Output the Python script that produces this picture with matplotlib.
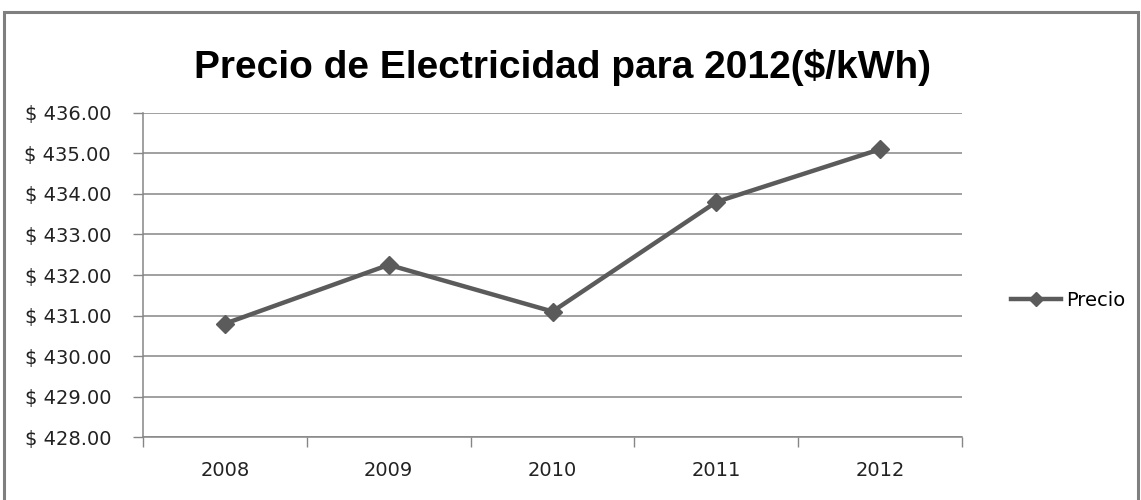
import matplotlib
matplotlib.use("Agg")
import matplotlib.pyplot as plt
from matplotlib.patches import Rectangle
from matplotlib.ticker import FuncFormatter, FixedLocator

years = ["2008", "2009", "2010", "2011", "2012"]
precio = [430.80, 432.25, 431.10, 433.80, 435.10]

GRID = "#868686"
LINE = "#5b5b5b"

fig = plt.figure(figsize=(11.41, 5.0), dpi=100)
fig.patch.set_facecolor("white")

# chart frame (top-left of the outer box, cut at the bottom)
fig.patches.append(Rectangle((4 / 1141, -0.05), 1134 / 1141, 1.05 - 12 / 500,
                             transform=fig.transFigure, fill=False,
                             edgecolor="#7f7f7f", linewidth=2.2))

ax = fig.add_axes([143 / 1141, 1 - 437.3 / 500, 819 / 1141, 324.6 / 500])
x = list(range(len(years)))
ax.plot(x, precio, color=LINE, linewidth=3.2, marker="D", markersize=9,
        markerfacecolor=LINE, markeredgecolor=LINE, label="Precio")

ax.set_xlim(-0.5, len(years) - 0.5)
ax.set_ylim(428, 436)
ax.set_yticks(range(428, 437))
ax.yaxis.set_major_formatter(FuncFormatter(lambda v, p: f"$ {v:.2f}"))
ax.yaxis.grid(True, color=GRID, linewidth=1.1)
ax.set_axisbelow(True)

ax.set_xticks(x)
ax.set_xticklabels(years)
ax.xaxis.set_minor_locator(FixedLocator([i - 0.5 for i in range(len(years) + 1)]))
ax.tick_params(axis="x", which="major", length=0, pad=17, labelsize=14,
               labelcolor="#222222")
ax.tick_params(axis="x", which="minor", length=7, color=GRID, width=1)
ax.tick_params(axis="y", length=7, color=GRID, width=1, pad=16, labelsize=14,
               labelcolor="#222222")
for lab in ax.get_yticklabels() + ax.get_xticklabels():
    lab.set_fontfamily("DejaVu Sans")

for s in ["top", "right"]:
    ax.spines[s].set_visible(False)
ax.spines["left"].set_color(GRID)
ax.spines["bottom"].set_color(GRID)
ax.spines["left"].set_linewidth(1.1)
ax.spines["bottom"].set_linewidth(1.1)

fig.text(562 / 1141, 1 - 68 / 500, "Precio de Electricidad para 2012($/kWh)",
         ha="center", va="center", fontsize=28, fontweight="bold",
         family="Liberation Sans", color="black")

fig.legend(loc="center left", bbox_to_anchor=(1003 / 1141, 1 - 300 / 500),
           frameon=False, fontsize=14, handlelength=2.6, handletextpad=0.25,
           borderaxespad=0, markerscale=0.8)

fig.savefig("out.png", dpi=100, facecolor="white")
